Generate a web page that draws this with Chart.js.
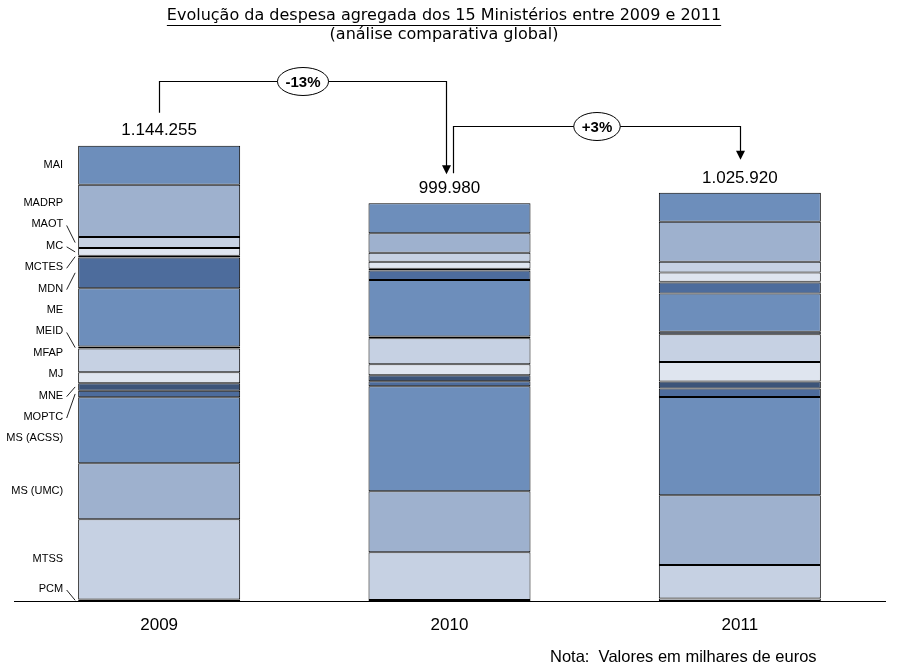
<!DOCTYPE html>
<html lang="pt">
<head>
<meta charset="UTF-8">
<title>Evolução da despesa agregada dos 15 Ministérios</title>
<script src="https://cdn.jsdelivr.net/npm/chart.js"></script>
<style>
  html, body { margin: 0; padding: 0; background: #fff; }
  #grafico { display: block; }
</style>
</head>
<body>
<canvas id="grafico" width="900" height="672"></canvas>
<script>
// dados (milhares de euros), de cima para baixo na coluna
const anos = ['2009', '2010', '2011'];
const ministerios = ['MAI', 'MADRP', 'MAOT', 'MC', 'MCTES', 'MDN', 'ME', 'MEID',
                     'MFAP', 'MJ', 'MNE', 'MOPTC', 'MS (ACSS)', 'MS (UMC)', 'MTSS', 'PCM'];
const despesa2009 = [98000, 131500, 27700, 19400, 4300, 77000, 146900, 5000,
                     59400, 27700, 18600, 16600, 166000, 140800, 201855, 3500];
const despesa2010 = [75450, 49500, 22600, 17600, 4300, 23400, 142600, 4000,
                     65400, 27700, 15100, 12600, 264000, 153400, 120000, 2330];
const despesa2011 = [72900, 100600, 26900, 23400, 1300, 27700, 96600, 5800,
                     69700, 49300, 17600, 21600, 246500, 175300, 84720, 6000];

const cores = ['#6d8ebb', '#9eb1ce', '#c6d1e3', '#dfe5ef', '#3c5479', '#4d6c9c'];
const fonte = '"Liberation Sans", Arial, sans-serif';

const fmt = n => String(Math.round(n)).replace(/\B(?=(\d{3})+(?!\d))/g, '.');

const series = [despesa2009, despesa2010, despesa2011];
const totais = series.map(s => s.reduce((a, b) => a + b, 0));

// primeiro dataset fica em baixo na pilha, por isso invertemos
const datasets = ministerios.map((nome, i) => ({
    label: nome,
    data: series.map(s => s[i]),
    backgroundColor: cores[i % cores.length],
    borderColor: '#000',
    borderWidth: 1,
    borderSkipped: false,
    inflateAmount: 0,
    barPercentage: 0.558,
    categoryPercentage: 1
})).reverse();

function seta(ctx, x1, y1, yH, x2, y2, texto) {
    ctx.save();
    ctx.strokeStyle = '#000';
    ctx.fillStyle = '#000';
    ctx.lineWidth = 1.2;
    ctx.beginPath();
    ctx.moveTo(x1, y1);
    ctx.lineTo(x1, yH);
    ctx.lineTo(x2, yH);
    ctx.lineTo(x2, y2 - 8);
    ctx.stroke();
    ctx.beginPath();
    ctx.moveTo(x2 - 4.5, y2 - 9);
    ctx.lineTo(x2 + 4.5, y2 - 9);
    ctx.lineTo(x2, y2);
    ctx.closePath();
    ctx.fill();

    const cx = (x1 + x2) / 2;
    ctx.font = 'bold 15px ' + fonte;
    const w = ctx.measureText(texto).width + 16;
    ctx.beginPath();
    ctx.ellipse(cx, yH, w / 2, 14, 0, 0, Math.PI * 2);
    ctx.fillStyle = '#fff';
    ctx.fill();
    ctx.lineWidth = 1;
    ctx.stroke();
    ctx.fillStyle = '#000';
    ctx.textAlign = 'center';
    ctx.textBaseline = 'middle';
    ctx.fillText(texto, cx, yH + 1);
    ctx.restore();
}

// etiquetas à esquerda: agrupa as que se sobrepõem e centra cada grupo
function arrumar(desejado, gap, minY, maxY) {
    let grupos = desejado.map((d, i) => ({ ini: i, fim: i, soma: d, y: d }));
    let mudou = true;
    while (mudou) {
        mudou = false;
        grupos.forEach(g => {
            const k = g.fim - g.ini + 1;
            g.y = g.soma / k - (k - 1) * gap / 2;
            g.y = Math.min(Math.max(g.y, minY), maxY - (k - 1) * gap);
        });
        for (let k = 0; k < grupos.length - 1; k++) {
            const a = grupos[k], b = grupos[k + 1];
            if (a.y + (a.fim - a.ini) * gap + gap > b.y + 0.01) {
                a.fim = b.fim;
                a.soma += b.soma;
                grupos.splice(k + 1, 1);
                mudou = true;
                break;
            }
        }
    }
    const res = [];
    grupos.forEach(g => {
        for (let i = g.ini; i <= g.fim; i++) res[i] = g.y + (i - g.ini) * gap;
    });
    return res;
}

const anotacoes = {
    id: 'anotacoes',
    afterDraw(chart) {
        const ctx = chart.ctx;
        const n = ministerios.length;
        const topo = chart.getDatasetMeta(n - 1).data;

        // título
        ctx.save();
        ctx.fillStyle = '#000';
        ctx.font = '16px "DejaVu Sans", Verdana, sans-serif';
        ctx.textAlign = 'center';
        ctx.textBaseline = 'middle';
        const t1 = 'Evolução da despesa agregada dos 15 Ministérios entre 2009 e 2011';
        ctx.fillText(t1, 444, 16);
        ctx.fillText('(análise comparativa global)', 444, 35);
        const wt = ctx.measureText(t1).width;
        ctx.fillRect(444 - wt / 2, 25, wt, 1);

        // nota
        ctx.font = '16.5px ' + fonte;
        ctx.textAlign = 'left';
        ctx.fillText('Nota:  Valores em milhares de euros', 550, 657);

        // totais por cima das colunas
        ctx.font = '17px ' + fonte;
        ctx.textAlign = 'center';
        const yTot = topo.map(el => el.y - 15);
        topo.forEach((el, j) => ctx.fillText(fmt(totais[j]), el.x, yTot[j]));

        // etiquetas dos ministérios junto à coluna de 2009
        const barra0 = topo[0];
        const esq = barra0.x - barra0.width / 2;
        const segs = ministerios.map((_, i) => {
            const el = chart.getDatasetMeta(n - 1 - i).data[0];
            return { cima: el.y, baixo: el.base, meio: (el.y + el.base) / 2 };
        });
        const ys = arrumar(segs.map(s => s.meio), 21.4, 150, chart.chartArea.bottom - 12);
        ctx.font = '11px ' + fonte;
        ctx.textAlign = 'right';
        ctx.strokeStyle = '#222';
        ctx.lineWidth = 1;
        ministerios.forEach((nome, i) => {
            ctx.fillText(nome, esq - 15, ys[i]);
            const s = segs[i];
            if (ys[i] < s.cima + 1 || ys[i] > s.baixo - 1) {
                ctx.beginPath();
                ctx.moveTo(esq - 11.5, ys[i] + 1);
                ctx.lineTo(esq - 3, s.meio);
                ctx.stroke();
            }
        });
        ctx.restore();

        // setas de variação
        const pct = (a, b) => {
            const v = Math.round((b / a - 1) * 100);
            return (v > 0 ? '+' : '') + v + '%';
        };
        seta(ctx, Math.round(topo[0].x) + 0.5, yTot[0] - 18,
             Math.round(Math.min(yTot[0], yTot[1]) - 50) + 0.5,
             Math.round(topo[1].x - 3.5) + 0.5, yTot[1] - 14, pct(totais[0], totais[1]));
        seta(ctx, Math.round(topo[1].x + 3.5) + 0.5, yTot[1] - 15,
             Math.round(Math.min(yTot[1], yTot[2]) - 52) + 0.5,
             Math.round(topo[2].x) + 0.5, yTot[2] - 18, pct(totais[1], totais[2]));
    }
};

new Chart(document.getElementById('grafico'), {
    type: 'bar',
    data: { labels: anos, datasets: datasets },
    options: {
        responsive: false,
        animation: false,
        layout: { padding: { left: 14, right: 15, top: 44, bottom: 22.6 } },
        plugins: {
            legend: { display: false },
            tooltip: { enabled: false },
            title: { display: false }
        },
        scales: {
            x: {
                stacked: true,
                grid: { display: false, drawTicks: false },
                border: { display: true, color: '#000', width: 1 },
                ticks: { color: '#000', font: { family: fonte, size: 17 }, padding: 14 }
            },
            y: {
                stacked: true,
                display: false,
                min: 0,
                max: 1400000
            }
        }
    },
    plugins: [anotacoes]
});
</script>
</body>
</html>
